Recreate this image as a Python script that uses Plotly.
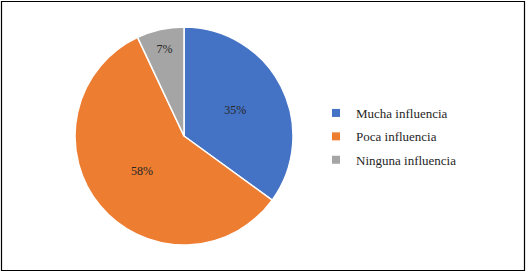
import plotly.graph_objects as go

labels = ["Mucha influencia", "Poca influencia", "Ninguna influencia"]
values = [35, 58, 7]
colors = ["#4472C4", "#ED7D31", "#A5A5A5"]

W, H = 526, 273
cx, cy, r = 184, 136, 109
FONT = "Liberation Serif"

fig = go.Figure()
fig.add_trace(go.Pie(
    labels=labels,
    values=values,
    sort=False,
    direction="clockwise",
    rotation=0,
    marker=dict(colors=colors, line=dict(color="white", width=1.5)),
    textinfo="percent",
    texttemplate="%{percent:.0%}",
    textposition="inside",
    insidetextorientation="horizontal",
    textfont=dict(family=FONT, size=12, color="#262626"),
    domain=dict(x=[(cx - r) / W, (cx + r) / W], y=[1 - (cy + r) / H, 1 - (cy - r) / H]),
    hoverinfo="label+percent",
    showlegend=False,
))

# legend entries (one per category)
for lab, col in zip(labels, colors):
    fig.add_trace(go.Scatter(
        x=[None], y=[None], mode="markers", name=lab, legendgroup=lab,
        marker=dict(symbol="square", size=8, color=col),
        showlegend=True, hoverinfo="skip",
    ))

fig.update_layout(
    width=W, height=H,
    margin=dict(l=0, r=0, t=0, b=0),
    paper_bgcolor="white",
    plot_bgcolor="white",
    font=dict(family=FONT, size=13, color="#262626"),
    xaxis=dict(visible=False),
    yaxis=dict(visible=False),
    legend=dict(
        x=316 / W, y=1 - 98 / H, xanchor="left", yanchor="top",
        font=dict(family=FONT, size=13, color="#262626"),
        itemwidth=30, tracegroupgap=3.5, bgcolor="rgba(0,0,0,0)",
    ),
    shapes=[dict(type="rect", xref="paper", yref="paper",
                 x0=1.5 / W, x1=524.5 / W, y0=1 - 270.5 / H, y1=1 - 1.5 / H,
                 line=dict(color="black", width=1.2))],
)

fig.write_html("out.html", config={"displayModeBar": False},
               post_script="document.body.style.margin='0';document.body.style.overflow='hidden';")
